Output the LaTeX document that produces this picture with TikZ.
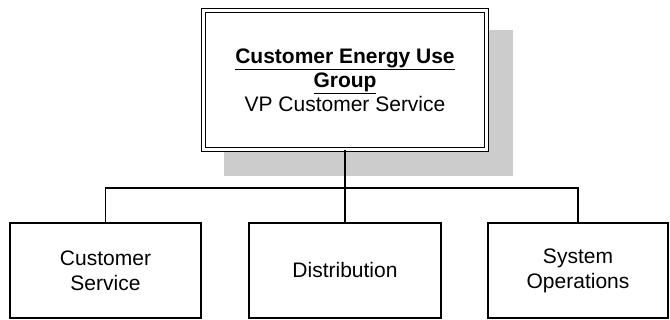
\documentclass[tikz,border=0pt]{standalone}
\usepackage{fontspec}
\setmainfont{Liberation Sans}
\begin{document}
\begin{tikzpicture}[x=1pt,y=1pt,line width=1.2pt,
   unit/.style={rectangle,draw,fill=white,align=center,minimum height=95pt,
     font=\fontsize{21}{25}\selectfont},
   head/.style={rectangle,draw,double,double distance=2.4pt,fill=white,align=center,
     minimum width=283pt,minimum height=139pt,font=\fontsize{21}{24}\selectfont}]
   \useasboundingbox (0,0) rectangle (670,320);
   \fill[black!20] (224,144) rectangle (513,290);
   \node (cegroup) at (345,240) [head]
     {\textbf{\underline{Customer Energy Use}}\\\textbf{\underline{Group}}\\VP Customer Service};
   \node (custsvc) at (105.5,49.5) [unit,minimum width=191pt] {Customer\\Service};
   \node (distrib) at (345,49.5) [unit,minimum width=192pt] {Distribution};
   \node (sysops) at (578,49.5) [unit,minimum width=180pt] {System\\Operations};
   \coordinate (bus) at (345,132);
   \draw (cegroup.south) -- (distrib.north);
   \draw (bus) -| (custsvc.north);
   \draw (bus) -| (sysops.north);
  \end{tikzpicture}
\end{document}
